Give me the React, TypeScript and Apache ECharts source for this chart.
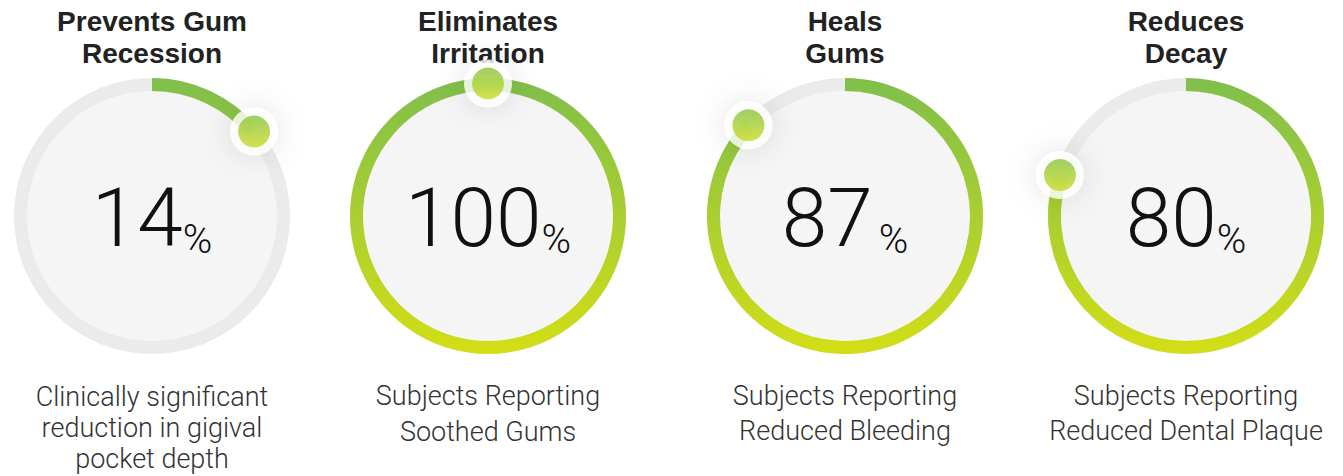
import React, { useEffect, useRef } from "react";
import * as echarts from "echarts";

const headings = ["Prevents Gum\nRecession", "Eliminates\nIrritation", "Heals\nGums", "Reduces\nDecay"];
const values = [14, 100, 87, 80];
const descriptions = [
  "Clinically significant\nreduction in gigival\npocket depth",
  "Subjects Reporting\nSoothed Gums",
  "Subjects Reporting\nReduced Bleeding",
  "Subjects Reporting\nReduced Dental Plaque",
];

export default function App() {
  const ref = useRef<HTMLDivElement>(null);
  useEffect(() => {
    if (!ref.current) return;
    const chart = echarts.init(ref.current, null, { renderer: "svg" });
    const cxs = [152, 488, 845, 1186];
    const cy = 216;
    const R = 138;
    const W = 13;
    const descLH = [31, 36, 35, 35];
    const ringGrad = {
      type: "linear", x: 0, y: cy - R, x2: 0, y2: cy + R, global: true,
      colorStops: [
        { offset: 0, color: "#7fbf4b" },
        { offset: 1, color: "#d3de16" },
      ],
    };
    const dotGrad = {
      type: "linear", x: 0, y: 0, x2: 0, y2: 1,
      colorStops: [
        { offset: 0, color: "#86c33f" },
        { offset: 1, color: "#cadb20" },
      ],
    };
    const series: any[] = [];
    const polar: any[] = [];
    const angleAxis: any[] = [];
    const radiusAxis: any[] = [];
    const graphic: any[] = [];
    values.forEach((v, i) => {
      const cx = cxs[i];
      series.push({
        type: "pie",
        z: 1,
        silent: true,
        center: [cx, cy],
        radius: [0, R - W + 1],
        label: { show: false },
        labelLine: { show: false },
        itemStyle: { color: "#f5f5f5" },
        data: [{ value: 1, name: "bg" + i }],
      });
      series.push({
        type: "gauge",
        z: 2,
        center: [cx, cy],
        radius: R,
        startAngle: 90,
        endAngle: -270,
        clockwise: true,
        min: 0,
        max: 100,
        axisLine: { lineStyle: { width: W, color: [[1, "#ebebeb"]] } },
        progress: { show: true, width: W, itemStyle: { color: ringGrad } },
        splitLine: { show: false },
        axisTick: { show: false },
        axisLabel: { show: false },
        pointer: { show: false },
        anchor: { show: false },
        title: {
          show: true,
          offsetCenter: [0, -179],
          fontSize: 28,
          fontWeight: "bold",
          fontFamily: "Liberation Sans, Arial, sans-serif",
          color: "#222",
          lineHeight: 32,
        },
        detail: {
          show: true,
          offsetCenter: [0, 1],
          formatter: "{v|{value}}{p|%}",
          rich: {
            v: {
              fontSize: 82,
              fontWeight: 300,
              fontFamily: "Roboto, sans-serif",
              color: "#111",
              lineHeight: 84,
              verticalAlign: "bottom",
            },
            p: {
              fontSize: 40,
              fontWeight: 300,
              fontFamily: "Roboto, sans-serif",
              color: "#111",
              lineHeight: 60,
              verticalAlign: "bottom",
              padding: [0, 0, 0, i === 2 ? 6 : 0],
            },
          },
        },
        data: [{ value: v, name: headings[i] }],
      });
      polar.push({ center: [cx, cy], radius: R });
      angleAxis.push({ polarIndex: i, type: "value", min: 0, max: 100, startAngle: 90, clockwise: true, show: false });
      radiusAxis.push({ polarIndex: i, type: "value", min: 0, max: R, show: false });
      series.push({
        type: "scatter",
        z: 3,
        coordinateSystem: "polar",
        polarIndex: i,
        symbol: "circle",
        symbolSize: 48,
        silent: true,
        itemStyle: {
          color: "#ffffff",
          shadowBlur: 30,
          shadowColor: "rgba(0,0,0,0.14)",
        },
        data: [[R - W / 2 + 1, v]],
      });
      series.push({
        type: "scatter",
        z: 4,
        coordinateSystem: "polar",
        polarIndex: i,
        symbol: "circle",
        symbolSize: 32,
        silent: true,
        itemStyle: { color: dotGrad },
        data: [[R - W / 2 + 1, v]],
      });
      graphic.push({
        type: "text",
        x: cx,
        y: i === 0 ? 381 : 378,
        style: {
          text: descriptions[i],
          textAlign: "center",
          textVerticalAlign: "top",
          fontSize: 27,
          fontWeight: 300,
          fontFamily: "Roboto, sans-serif",
          fill: "#333",
          lineHeight: descLH[i],
        },
      });
    });
    chart.setOption({
      animation: false,
      backgroundColor: "#ffffff",
      polar,
      angleAxis,
      radiusAxis,
      series,
      graphic,
    });
    return () => chart.dispose();
  }, []);
  return <div ref={ref} style={{ position: "absolute", left: 0, top: 0, width: 1343, height: 476 }} />;
}
